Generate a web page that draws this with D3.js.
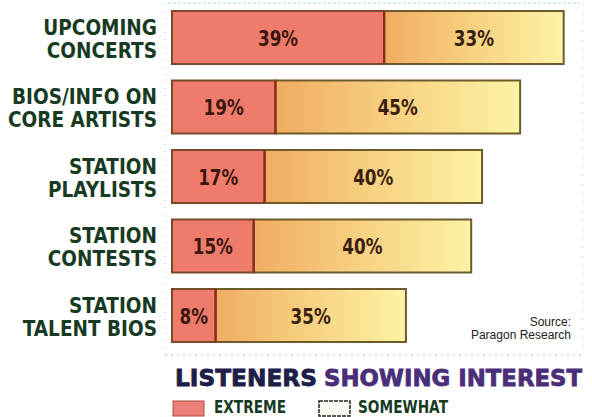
<!DOCTYPE html>
<html><head><meta charset="utf-8">
<script src="https://cdn.jsdelivr.net/npm/d3@7"></script>
<style>body{margin:0;background:#fff}svg{display:block}</style>
</head><body>
<script>
const categories = [["UPCOMING","CONCERTS"],["BIOS/INFO ON","CORE ARTISTS"],["STATION","PLAYLISTS"],["STATION","CONTESTS"],["STATION","TALENT BIOS"]];
const extreme = [39,19,17,15,8];
const somewhat = [33,45,40,40,35];
const seriesNames = ["EXTREME","SOMEWHAT"];
const title1 = "LISTENERS", title2 = "SHOWING INTEREST";
const source = ["Source:","Paragon Research"];

const W=592,H=417;
const svg=d3.select("body").append("svg").attr("width",W).attr("height",H);
const defs=svg.append("defs");
const g1=defs.append("linearGradient").attr("id","som").attr("x1","0").attr("x2","1").attr("y1","0").attr("y2","0");
g1.append("stop").attr("offset","0").attr("stop-color","#f0ac62");
g1.append("stop").attr("offset","0.5").attr("stop-color","#f7d282");
g1.append("stop").attr("offset","1").attr("stop-color","#fdf3a6");

const x=d3.scaleLinear().domain([0,100]).range([172,172+544]);
const bh=53;
const y=d3.scaleBand().domain(d3.range(categories.length)).range([11,11+69.5*4+bh]).paddingInner(16.5/69.5).paddingOuter(0);

function condense(sel,f){sel.each(function(){const n=this.getComputedTextLength();d3.select(this).attr("textLength",n*f).attr("lengthAdjust","spacingAndGlyphs");});}

const fc="#9fd0d0";
svg.append("line").attr("x1",165).attr("x2",165).attr("y1",4).attr("y2",355).attr("stroke",fc).attr("stroke-dasharray","1,6");
svg.append("line").attr("x1",583).attr("x2",583).attr("y1",4).attr("y2",355).attr("stroke",fc).attr("stroke-dasharray","1,8");
svg.append("line").attr("x1",168).attr("x2",580).attr("y1",3).attr("y2",3).attr("stroke","#a8d8d8").attr("stroke-dasharray","3,2");
svg.append("line").attr("x1",165).attr("x2",583).attr("y1",355).attr("y2",355).attr("stroke",fc).attr("stroke-dasharray","2,4");

const rows=svg.selectAll("g.row").data(categories).join("g").attr("class","row");
const yy=i=>y(i);
rows.append("rect").attr("x",(d,i)=>x(extreme[i])).attr("y",(d,i)=>yy(i))
  .attr("width",(d,i)=>x(extreme[i]+somewhat[i])-x(extreme[i])).attr("height",bh)
  .attr("fill","url(#som)").attr("stroke","#6e5a2a").attr("stroke-width",2);
rows.append("rect").attr("x",x(0)).attr("y",(d,i)=>yy(i))
  .attr("width",(d,i)=>x(extreme[i])-x(0)).attr("height",bh)
  .attr("fill","#ef7b6d").attr("stroke","#7a4a28").attr("stroke-width",2);
rows.append("line").attr("x1",(d,i)=>x(extreme[i])).attr("x2",(d,i)=>x(extreme[i]))
  .attr("y1",(d,i)=>yy(i)).attr("y2",(d,i)=>yy(i)+bh).attr("stroke","#8a2a1a").attr("stroke-width",2);

const vf="'DejaVu Sans',sans-serif";
const v1=rows.append("text").attr("x",(d,i)=>(x(0)+x(extreme[i]))/2).attr("y",(d,i)=>yy(i)+bh/2+8)
  .attr("text-anchor","middle").attr("font-family",vf).attr("font-weight","bold").attr("font-size",21)
  .attr("fill","#3a1810").text((d,i)=>extreme[i]+"%");
const v2=rows.append("text").attr("x",(d,i)=>(x(extreme[i])+x(extreme[i]+somewhat[i]))/2).attr("y",(d,i)=>yy(i)+bh/2+8)
  .attr("text-anchor","middle").attr("font-family",vf).attr("font-weight","bold").attr("font-size",21)
  .attr("fill","#3a2010").text((d,i)=>somewhat[i]+"%");
condense(v1,0.8);condense(v2,0.8);

rows.each(function(d,i){
  const g=d3.select(this);
  const a=g.append("text").attr("x",157).attr("y",yy(i)+bh/2-3).attr("text-anchor","end").attr("font-family",vf).attr("font-weight","bold")
    .attr("font-size",22).attr("fill","#163a22").text(d[0]);
  const b=g.append("text").attr("x",157).attr("y",yy(i)+bh/2+20).attr("text-anchor","end").attr("font-family",vf).attr("font-weight","bold")
    .attr("font-size",22).attr("fill","#163a22").text(d[1]);
  condense(a,0.84);condense(b,0.84);
});

const sf="'Liberation Sans',Arial,sans-serif";
svg.append("text").attr("x",571).attr("y",326).attr("text-anchor","end").attr("font-family",sf).attr("font-size",12).attr("fill","#222").text(source[0]);
svg.append("text").attr("x",571).attr("y",339).attr("text-anchor","end").attr("font-family",sf).attr("font-size",12).attr("fill","#222").text(source[1]);

const tf="'DejaVu Sans',sans-serif";
svg.append("text").attr("x",175).attr("y",386).attr("font-family",tf).attr("font-weight","bold").attr("font-size",23)
  .attr("fill","#1c2048").attr("stroke","#1c2048").attr("stroke-width",0.8).attr("textLength",142).attr("lengthAdjust","spacingAndGlyphs").text(title1);
svg.append("text").attr("x",324).attr("y",386).attr("font-family",tf).attr("font-weight","bold").attr("font-size",23)
  .attr("fill","#4a2e7a").attr("stroke","#4a2e7a").attr("stroke-width",0.8).attr("textLength",258).attr("lengthAdjust","spacingAndGlyphs").text(title2);

svg.append("rect").attr("x",173).attr("y",401).attr("width",31).attr("height",15).attr("fill","#ec8078").attr("stroke","#b04a40").attr("stroke-width",1);
svg.append("text").attr("x",214).attr("y",413).attr("font-family",vf).attr("font-weight","bold").attr("font-size",17).attr("fill","#163a22")
  .attr("textLength",72).attr("lengthAdjust","spacingAndGlyphs").text(seriesNames[0]);
svg.append("rect").attr("x",319).attr("y",401).attr("width",31).attr("height",15).attr("fill","#fafaf2").attr("stroke","#222").attr("stroke-width",1.5).attr("stroke-dasharray","4,1");
svg.append("text").attr("x",358).attr("y",413).attr("font-family",vf).attr("font-weight","bold").attr("font-size",17).attr("fill","#163a22")
  .attr("textLength",90).attr("lengthAdjust","spacingAndGlyphs").text(seriesNames[1]);
</script>
</body></html>
